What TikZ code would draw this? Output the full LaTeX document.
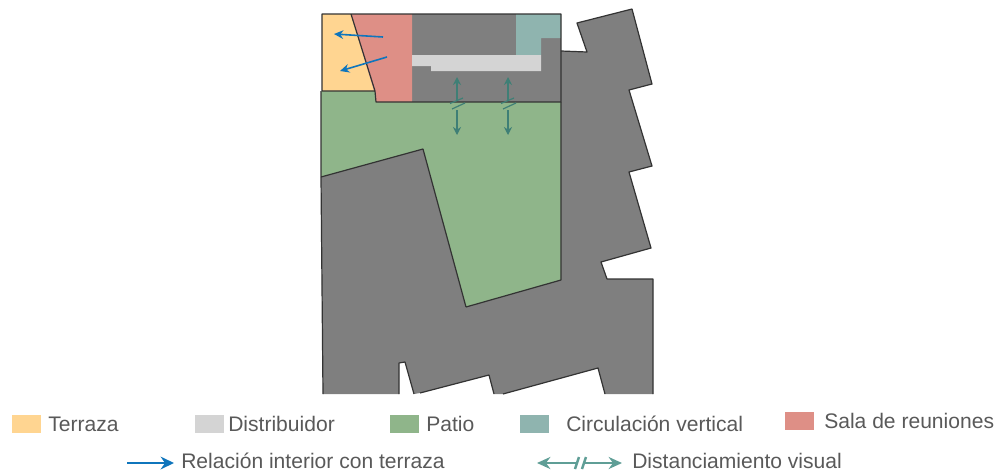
\documentclass[tikz,border=0pt]{standalone}
\usepackage{fontspec}
\usetikzlibrary{arrows.meta}
\setmainfont{Liberation Sans}
\definecolor{terrazacol}{HTML}{FFD591}
\definecolor{salacol}{HTML}{DE8F86}
\definecolor{murocol}{HTML}{7F7F7F}
\definecolor{circcol}{HTML}{8FB4AF}
\definecolor{distcol}{HTML}{D4D4D4}
\definecolor{patiocol}{HTML}{8FB58A}
\definecolor{azulcol}{HTML}{0F75BC}
\definecolor{verdecol}{HTML}{3F7F76}
\definecolor{verdeleg}{HTML}{5F9E96}
\definecolor{textocol}{HTML}{595959}
\tikzset{
  swatch/.style={minimum width=21.5pt,minimum height=13.5pt,inner sep=0pt,anchor=north west},
  legendtext/.style={anchor=west,inner sep=0pt,text=textocol,font=\fontsize{15.8pt}{17pt}\selectfont},
  outline/.style={draw=black!80,line width=.9pt,line join=round},
  relarrow/.style={-{Stealth[length=7pt,width=6.5pt]},azulcol,line width=1.2pt},
  distarrow/.style={-{Stealth[length=6pt,width=6pt]},verdecol,line width=.9pt},
  distslash/.style={verdecol,line width=.9pt},
  relleg/.style={-{Stealth[length=10pt,width=9.5pt]},azulcol,line width=1.9pt},
  distleg/.style={-{Stealth[length=10pt,width=9pt]},verdeleg,line width=1.9pt},
  legslash/.style={verdeleg,line width=1.8pt}
}
\begin{document}
\begin{tikzpicture}[x=.75pt,y=-.75pt]
    \useasboundingbox (0,0) rectangle (997,472);
    % edificio
    \fill[murocol] (321,177) -- (423,149) -- (466,307) -- (561,280) -- (561,51) -- (587,52) -- (577,23) -- (632,9) -- (652,84) -- (629,90) -- (652,166) -- (629,172) -- (651,248) -- (601,262) -- (607,279) -- (653,279) -- (653,394) -- (605,394) -- (598,368) -- (503,394) -- (494,394) -- (489,375) -- (420,393) -- (414,394) -- (405,362) -- (399,363) -- (399,394) -- (323,394) -- cycle;
    \draw[outline] (561,51) -- (587,52) -- (577,23) -- (632,9) -- (652,84) -- (629,90) -- (652,166) -- (629,172) -- (651,248) -- (601,262) -- (607,279) -- (653,279) -- (653,394) (605,394) -- (598,368) -- (503,394) (494,394) -- (489,375) -- (420,393) (414,394) -- (405,362) -- (399,363) -- (399,394) (323,394) -- (321,177);
    \fill[patiocol] (321,91) -- (375,91) -- (376,102) -- (561,102) -- (561,280) -- (466,307) -- (423,149) -- (321,177) -- cycle;
    \draw[outline] (321,177) -- (321,91) (466,307) -- (561,280) -- (561,102) (321,177) -- (423,149) -- (466,307);
    \fill[murocol] (376,14) rectangle (561,102);
    \fill[terrazacol] (322,14) -- (351,14) -- (374,91) -- (322,91) -- cycle;
    \fill[salacol] (351,14) -- (412,14) -- (412,102) -- (376,102) -- (375,91) -- (374,91) -- cycle;
    \fill[circcol] (516,14) -- (561,14) -- (561,38) -- (541,38) -- (541,55) -- (516,55) -- cycle;
    \fill[distcol] (412,55) -- (541,55) -- (541,71) -- (431,71) -- (431,66) -- (412,66) -- cycle;
    \draw[outline] (322,91) -- (322,14) -- (561,14) -- (561,102) -- (376,102) -- (375,91) -- (322,91) (351,14) -- (375,91);
    % flechas
    \coordinate (sala1) at (383,37);
    \coordinate (terr1) at (334,34);
    \coordinate (sala2) at (387,57);
    \coordinate (terr2) at (340,71);
    \draw[relarrow] (sala1) -- (terr1);
    \draw[relarrow] (sala2) -- (terr2);
    \foreach \i/\px in {a/457,b/508}{
        \coordinate (up\i) at (\px,101);
        \coordinate (uptip\i) at (\px,77);
        \coordinate (down\i) at (\px,110);
        \coordinate (downtip\i) at (\px,135);
        \draw[distarrow] (up\i) -- (uptip\i);
        \draw[distarrow] (down\i) -- (downtip\i);
        \draw[distslash] (\px-7,103.5) -- (\px+6,98) (\px-5,109) -- (\px+8,103);
    }
    % leyenda
    \node[swatch,fill=terrazacol] (swterraza) at (12,415) {};
    \node[swatch,fill=distcol] (swdist) at (195,415) {};
    \node[swatch,fill=patiocol] (swpatio) at (390,415) {};
    \node[swatch,fill=circcol] (swcirc) at (520,415) {};
    \node[swatch,fill=salacol] (swsala) at (785,412) {};
    \node[legendtext] (terraza) at (48,424) {Terraza};
    \node[legendtext] (dist) at (228,424) {Distribuidor};
    \node[legendtext] (patio) at (426,424) {Patio};
    \node[legendtext] (circ) at (566,424) {Circulación vertical};
    \node[legendtext] (sala) at (824,421) {Sala de reuniones};
    \node[legendtext] (rel) at (181,461) {Relación interior con terraza};
    \node[legendtext] (vis) at (632,461) {Distanciamiento visual};
    \coordinate (relini) at (127,463);
    \coordinate (relfin) at (174,463);
    \draw[relleg] (relini) -- (relfin);
    \coordinate (vismid1) at (576,463);
    \coordinate (vismid2) at (585,463);
    \coordinate (visini) at (537,463);
    \coordinate (visfin) at (622,463);
    \draw[distleg] (vismid1) -- (visini);
    \draw[distleg] (vismid2) -- (visfin);
    \draw[legslash] (575,469) -- (579,457) (582,469) -- (586,457);
\end{tikzpicture}
\end{document}
